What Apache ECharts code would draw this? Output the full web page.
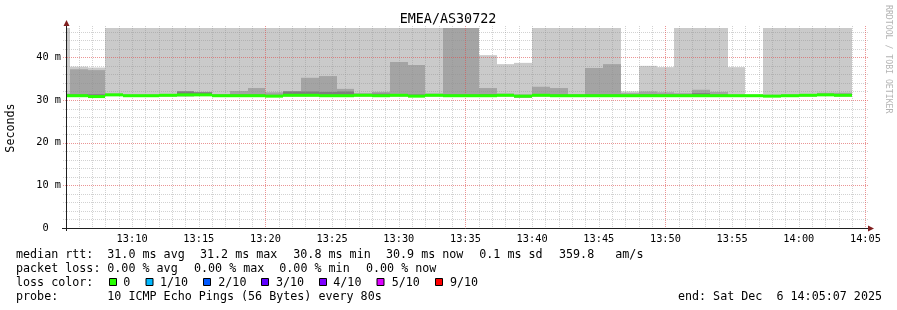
<!DOCTYPE html>
<html>
<head>
<meta charset="utf-8">
<script src="https://cdn.jsdelivr.net/npm/echarts@6/dist/echarts.min.js"></script>
<style>
html,body{margin:0;padding:0;background:#fff;}
#chart{width:897px;height:310px;}
</style>
</head>
<body>
<div id="chart"></div>
<script>
// ---------------- data ----------------
const chartTitle = 'EMEA/AS30722';
const viewStart = '13:05:07';
const viewEnd = '14:05:07';
const stepSeconds = 80;
const stepStarts = ['13:04:00','13:05:20','13:06:40','13:08:00','13:09:20','13:10:40','13:12:00','13:13:20','13:14:40','13:16:00',
  '13:17:20','13:18:40','13:20:00','13:21:20','13:22:40','13:24:00','13:25:20','13:26:40','13:28:00','13:29:20',
  '13:30:40','13:32:00','13:33:20','13:34:40','13:36:00','13:37:20','13:38:40','13:40:00','13:41:20','13:42:40',
  '13:44:00','13:45:20','13:46:40','13:48:00','13:49:20','13:50:40','13:52:00','13:53:20','13:54:40','13:56:00',
  '13:57:20','13:58:40','14:00:00','14:01:20','14:02:40'];
// median RTT (ms)
const medianRtt = [31.0,31.0,30.8,31.2,31.0,31.0,31.1,31.2,31.2,31.0,
  31.0,31.0,30.9,31.1,31.1,31.0,31.0,31.1,31.0,31.1,
  30.9,31.1,31.0,31.0,31.0,31.1,30.9,31.1,31.0,31.0,
  31.0,31.0,31.0,31.0,31.0,31.0,31.0,31.0,31.0,31.0,
  30.9,31.0,31.1,31.2,31.1];
// lowest ping of each step (ms)
const pingMin = [30.8,30.8,30.6,31.0,30.8,30.8,30.9,30.9,31.0,30.8,
  30.8,30.8,30.7,30.9,30.9,30.8,30.8,30.9,30.8,30.9,
  30.7,30.9,30.8,30.8,30.8,30.9,30.6,30.9,30.8,30.8,
  30.8,30.8,30.8,30.8,30.8,30.8,30.8,30.8,30.8,30.8,
  30.7,30.8,30.9,31.0,30.9];
// 8th of 10 sorted pings (ms)
const ping8 = [31.3,31.3,31.35,31.2,31.1,31.1,31.2,32.0,31.8,31.2,
  31.3,31.3,31.2,32.0,32.0,31.9,32.0,31.3,31.5,31.3,
  31.3,31.2,31.3,31.3,31.4,31.2,31.0,31.3,31.3,31.1,
  31.3,31.3,31.2,31.4,31.3,31.3,31.6,31.3,31.1,31.1,
  31.0,31.1,31.3,31.4,31.4];
// 9th of 10 sorted pings (ms)
const ping9 = [31.5,37.2,37.0,31.5,31.3,31.3,31.4,32.1,31.9,31.4,
  32.1,32.8,31.8,32.1,35.2,35.6,32.6,31.6,31.9,38.9,
  38.2,31.5,50.0,50.0,32.8,31.5,31.3,33.1,32.8,31.4,
  37.5,38.4,31.6,32.0,31.8,31.6,32.4,31.9,31.3,31.2,
  31.2,31.3,31.4,31.7,31.7];
// highest ping of each step (ms)
const pingMax = [50.0,37.8,37.6,50.0,50.0,50.0,50.0,50.0,50.0,50.0,
  50.0,50.0,50.0,50.0,50.0,50.0,50.0,50.0,50.0,50.0,
  50.0,50.0,50.0,50.0,40.5,38.4,38.7,50.0,50.0,50.0,
  50.0,50.0,32.0,38.0,37.7,50.0,50.0,50.0,37.7,31.3,
  50.0,50.0,50.0,50.0,50.0];
const xTickLabels = ['13:10','13:15','13:20','13:25','13:30','13:35','13:40','13:45','13:50','13:55','14:00','14:05'];
const yTickValues = [0,10,20,30,40];
const yTickLabels = ['0','10 m','20 m','30 m','40 m'];
const yMax = 46.87;
const lossColors = ['#26ff00','#00b8ff','#0059ff','#5e00ff','#7e00ff','#dd00ff','#ff0000'];
const lossLabels = ['0','1/10','2/10','3/10','4/10','5/10','9/10'];
const statsRow1 = ['median rtt:','31.0 ms avg','31.2 ms max','30.8 ms min','30.9 ms now','0.1 ms sd','359.8   am/s'];
const statsRow2 = ['packet loss:','0.00 % avg','0.00 % max','0.00 % min','0.00 % now'];
const probeText = ['probe:','10 ICMP Echo Pings (56 Bytes) every 80s'];
const endText = 'end: Sat Dec  6 14:05:07 2025';

// ---------------- helpers ----------------
function toMin(t){ const p=t.split(':').map(Number); return (p[0]-13)*60+p[1]+(p[2]||0)/60; }
function fmtMin(v){ const tot=Math.round(v); const h=13+Math.floor(tot/60); const m=tot%60; return h+':'+(m<10?'0':'')+m; }
const xMin = toMin(viewStart), xMax = toMin(viewEnd);
const stepMin = stepSeconds/60;
function stepRange(i){ const s=toMin(stepStarts[i]); const e = i+1<stepStarts.length ? toMin(stepStarts[i+1]) : s+stepMin; return [s,e]; }
function band(lo, hi){ return stepStarts.map((_,i)=>{ const r=stepRange(i); return [r[0], r[1], lo[i], hi[i]]; }); }

const GRID = {left:67, top:28, width:800, height:200, outerBoundsMode:'none', containLabel:false};
const MONO = '"DejaVu Sans Mono", "Liberation Mono", monospace';
const MINOR_GRID = 'rgba(143,143,143,0.4)';
const MAJOR_GRID = 'rgba(222,79,79,0.6)';

function smokeSeries(data, color, z){
  return {
    type:'custom', z:z, silent:true, data:data,
    encode:{x:[0,1], y:[2,3]},
    renderItem:function(params, api){
      const a = api.coord([api.value(0), api.value(3)]);
      const b = api.coord([api.value(1), api.value(2)]);
      const x0 = Math.round(a[0]), x1 = Math.round(b[0]);
      const cs = params.coordSys;
      const r = echarts.graphic.clipRectByRect(
        {x:x0, y:a[1], width:x1-x0, height:b[1]-a[1]},
        {x:cs.x, y:cs.y, width:cs.width, height:cs.height});
      return r ? {type:'rect', shape:r, style:{fill:color}} : null;
    }
  };
}

// grid lines: minute lines and 2 ms lines (minor), 15-minute and 10 ms lines (major)
const minorV = [], majorV = [], minorH = [], majorH = [];
for (let m = Math.ceil(xMin); m <= Math.floor(xMax); m++) ((m % 15 === 5) ? majorV : minorV).push([m, 0]);
for (let v = 2; v < yMax; v += 2) ((v % 10 === 0) ? majorH : minorH).push([xMin, v]);

function gridSeries(data, vertical, color, z){
  return {
    type:'custom', z:z, silent:true, data:data,
    renderItem:function(params, api){
      const cs = params.coordSys;
      const p = api.coord([api.value(0), api.value(1)]);
      let shape;
      if (vertical) {
        const x = Math.round(p[0]) + 0.5;
        shape = {x1:x, y1:cs.y-2, x2:x, y2:cs.y+cs.height+2};
      } else {
        const y = Math.round(p[1]) + 0.5;
        shape = {x1:cs.x-4, y1:y, x2:cs.x+cs.width+2, y2:y};
      }
      return {type:'line', shape:shape, style:{stroke:color, lineWidth:1, lineDash:[1,1]}};
    }
  };
}

const medianSeries = {
  type:'custom', z:8, silent:true,
  data: stepStarts.map((_,i)=>{ const r=stepRange(i); return [r[0], r[1], medianRtt[i]]; }),
  encode:{x:[0,1], y:2},
  renderItem:function(params, api){
    const a = api.coord([api.value(0), api.value(2)]);
    const b = api.coord([api.value(1), api.value(2)]);
    const x0 = Math.round(a[0]), x1 = Math.round(b[0]);
    const cs = params.coordSys;
    const r = echarts.graphic.clipRectByRect(
      {x:x0, y:a[1]-1.5, width:x1-x0, height:3},
      {x:cs.x, y:cs.y, width:cs.width, height:cs.height});
    return r ? {type:'rect', shape:r, style:{fill:lossColors[0]}} : null;
  }
};

// ---------------- graphic (texts, axis lines, legend) ----------------
const graphics = [];
function txt(s, x, y, size, align, color){
  graphics.push({type:'text', x:x, y:y, silent:true, style:{text:s, font: size+'px '+MONO, fill:color||'#000', textAlign:align||'left', textVerticalAlign:'middle'}});
}
// title
txt(chartTitle, 448, 20, 13.4, 'center');
// axis lines and arrows
graphics.push({type:'line', silent:true, z:10, shape:{x1:62, y1:228.5, x2:869, y2:228.5}, style:{stroke:'#1f1f1f', lineWidth:1}});
graphics.push({type:'line', silent:true, z:10, shape:{x1:66.5, y1:231, x2:66.5, y2:24}, style:{stroke:'#1f1f1f', lineWidth:1}});
graphics.push({type:'polygon', silent:true, z:11, shape:{points:[[868,225.5],[874,228.5],[868,231.5]]}, style:{fill:'#801f1f'}});
graphics.push({type:'polygon', silent:true, z:11, shape:{points:[[63.5,26],[66.5,20],[69.5,26]]}, style:{fill:'#801f1f'}});
// side credit
graphics.push({type:'text', x:888, y:5, rotation:-Math.PI/2, silent:true, style:{text:'RRDTOOL / TOBI OETIKER', font:'8.2px '+MONO, fill:'#b4b4b4', textAlign:'left', textVerticalAlign:'middle'}});
// legend rows
const row1X = [16,107.3,200,293.3,386,479.3,559];
statsRow1.forEach((s,i)=>txt(s, row1X[i], 254.5, 11.7));
const row2X = [16,107.3,194,279.3,366];
statsRow2.forEach((s,i)=>txt(s, row2X[i], 268.5, 11.7));
txt('loss color:', 16, 282.5, 11.7);
const boxX = [109,145.5,203,261,319,376.5,435];
const boxLabelX = [123.3,160,218.3,276,333.3,391.7,450];
lossColors.forEach((c,i)=>{
  graphics.push({type:'rect', silent:true, shape:{x:boxX[i]+0.5, y:278.5, width:7, height:7}, style:{fill:c, stroke:'#000', lineWidth:1}});
  txt(lossLabels[i], boxLabelX[i], 282.5, 11.7);
});
txt(probeText[0], 16, 296.8, 11.7);
txt(probeText[1], 107.3, 296.8, 11.7);
txt(endText, 882, 296.8, 11.7, 'right');

// ---------------- chart ----------------
const chart = echarts.init(document.getElementById('chart'), null, {renderer:'canvas'});
chart.setOption({
  animation:false,
  backgroundColor:'#ffffff',
  grid:GRID,
  xAxis:{
    type:'value', min:xMin, max:xMax,
    axisLine:{show:false}, axisTick:{show:false}, splitLine:{show:false},
    axisLabel:{customValues: xTickLabels.map(t=>toMin(t+':00')), formatter:(v)=>fmtMin(v), fontFamily:MONO, fontSize:10.3, color:'#000', margin:6}
  },
  yAxis:{
    type:'value', min:0, max:yMax,
    name:'Seconds', nameLocation:'middle', nameRotate:90, nameGap:50,
    nameTextStyle:{fontFamily:MONO, fontSize:11.7, color:'#000'},
    axisLine:{show:false}, axisTick:{show:false}, splitLine:{show:false},
    axisLabel:{customValues: yTickValues, formatter:(v)=>{ const i=yTickValues.indexOf(Math.round(v)); const s = i>=0 ? yTickLabels[i] : ''; return s.indexOf(' ')<0 ? s+'  ' : s; }, fontFamily:MONO, fontSize:10.3, color:'#000', margin:6}
  },
  series:[
    smokeSeries(band(pingMin, pingMax), '#cacaca', 1),
    smokeSeries(band(pingMin, ping9), '#a4a4a4', 2),
    smokeSeries(band(pingMin, ping8), '#7e7e7e', 3),
    gridSeries(minorV, true, MINOR_GRID, 5),
    gridSeries(minorH, false, MINOR_GRID, 5),
    gridSeries(majorV, true, MAJOR_GRID, 6),
    gridSeries(majorH, false, MAJOR_GRID, 6),
    medianSeries
  ],
  graphic: graphics
});
</script>
</body>
</html>
